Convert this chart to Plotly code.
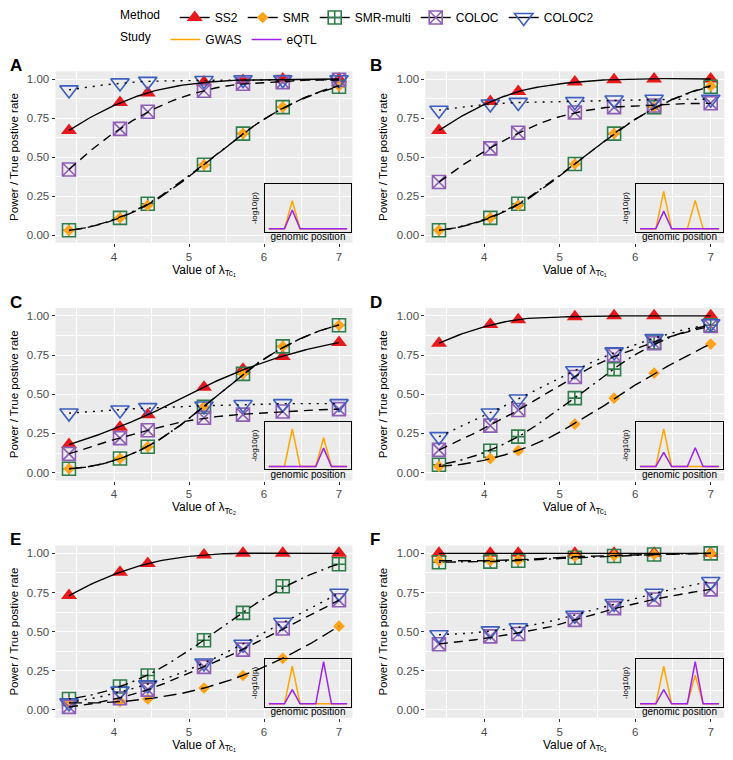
import numpy as np
import plotly.graph_objects as go

# ---------------- data ----------------
lambda_x = [3.4, 4.08, 4.45, 5.2, 5.72, 6.25, 7.0]
methods = ["SS2", "SMR", "SMR-multi", "COLOC", "COLOC2"]
panel_letters = ["A", "B", "C", "D", "E", "F"]
y_ticks = [0, 0.25, 0.5, 0.75, 1.0]
y_ticktext = ["0.00", "0.25", "0.50", "0.75", "1.00"]
x_ticks = [4, 5, 6, 7]

a_ss2 = [0.67, 0.85, 0.91, 0.98, 0.99, 1.0, 1.0]
a_smr = [0.03, 0.11, 0.19, 0.45, 0.65, 0.82, 0.955]
a_smrm = [0.03, 0.11, 0.20, 0.45, 0.65, 0.82, 0.95]
a_coloc = [0.42, 0.68, 0.79, 0.925, 0.97, 0.98, 0.995]
a_coloc2 = [0.93, 0.975, 0.985, 0.99, 0.995, 0.995, 0.995]

b_ss2 = [0.67, 0.855, 0.92, 0.98, 0.995, 1.0, 1.0]
b_smr = [0.03, 0.11, 0.19, 0.455, 0.65, 0.82, 0.955]
b_smrm = [0.03, 0.11, 0.20, 0.455, 0.65, 0.82, 0.95]
b_coloc = [0.34, 0.555, 0.655, 0.785, 0.82, 0.83, 0.845]
b_coloc2 = [0.80, 0.84, 0.85, 0.855, 0.865, 0.87, 0.87]

c_ss2 = [0.18, 0.29, 0.37, 0.545, 0.66, 0.74, 0.83]
c_smr = [0.025, 0.09, 0.165, 0.42, 0.63, 0.805, 0.94]
c_smrm = [0.025, 0.09, 0.165, 0.42, 0.63, 0.805, 0.94]
c_coloc = [0.12, 0.22, 0.27, 0.35, 0.37, 0.39, 0.405]
c_coloc2 = [0.38, 0.40, 0.415, 0.425, 0.435, 0.44, 0.44]

d_ss2 = [0.825, 0.945, 0.975, 0.995, 1.0, 1.0, 1.0]
d_smr = [0.04, 0.09, 0.14, 0.31, 0.475, 0.635, 0.82]
d_smrm = [0.05, 0.14, 0.23, 0.475, 0.66, 0.83, 0.94]
d_coloc = [0.145, 0.30, 0.40, 0.61, 0.75, 0.825, 0.935]
d_coloc2 = [0.23, 0.38, 0.47, 0.65, 0.77, 0.855, 0.95]

e_ss2 = [0.73, 0.88, 0.935, 0.99, 1.0, 1.0, 1.0]
e_smr = [0.045, 0.055, 0.07, 0.14, 0.22, 0.33, 0.535]
e_smrm = [0.07, 0.15, 0.22, 0.445, 0.62, 0.79, 0.93]
e_coloc = [0.02, 0.075, 0.13, 0.275, 0.385, 0.52, 0.70]
e_coloc2 = [0.045, 0.12, 0.16, 0.30, 0.42, 0.56, 0.745]

f_ss2 = [1.0, 1.0, 1.0, 1.0, 1.0, 1.0, 1.0]
f_smr = [0.953, 0.953, 0.957, 0.98, 0.985, 0.993, 1.0]
f_smrm = [0.943, 0.947, 0.953, 0.972, 0.983, 0.993, 1.0]
f_coloc = [0.42, 0.47, 0.485, 0.575, 0.65, 0.705, 0.77]
f_coloc2 = [0.48, 0.505, 0.525, 0.605, 0.68, 0.745, 0.82]

x_label_sub = ["1", "1", "2", "1", "1", "1"]

# inset: genomic position vs -log10(p)
genomic_pos = [0, 1, 2, 3, 4, 5, 6, 7, 8, 9, 10]
gwas_a = [0, 0, 0, 6, 0, 0, 0, 0, 0, 0, 0]
eqtl_a = [0, 0, 0, 4, 0, 0, 0, 0, 0, 0, 0]
gwas_b = [0, 0, 0, 8, 0, 0, 0, 6.1, 0, 0, 0]
eqtl_b = [0, 0, 0, 3.8, 0, 0, 0, 0, 0, 0, 0]
gwas_c = [0, 0, 0, 8, 0, 0, 0, 6.1, 0, 0, 0]
eqtl_c = [0, 0, 0, 0, 0, 0, 0, 3.9, 0, 0, 0]
gwas_d = [0, 0, 0, 8, 0, 0, 0, 0, 0, 0, 0]
eqtl_d = [0, 0, 0, 3, 0, 0, 0, 4, 0, 0, 0]
gwas_e = [0, 0, 0, 8, 0, 0, 0, 0, 0, 0, 0]
eqtl_e = [0, 0, 0, 3, 0, 0, 0, 9, 0, 0, 0]
gwas_f = [0, 0, 0, 8, 0, 0, 0, 6.1, 0, 0, 0]
eqtl_f = [0, 0, 0, 3, 0, 0, 0, 9, 0, 0, 0]

panels_data = [
    [a_ss2, a_smr, a_smrm, a_coloc, a_coloc2],
    [b_ss2, b_smr, b_smrm, b_coloc, b_coloc2],
    [c_ss2, c_smr, c_smrm, c_coloc, c_coloc2],
    [d_ss2, d_smr, d_smrm, d_coloc, d_coloc2],
    [e_ss2, e_smr, e_smrm, e_coloc, e_coloc2],
    [f_ss2, f_smr, f_smrm, f_coloc, f_coloc2],
]
insets = [(gwas_a, eqtl_a), (gwas_b, eqtl_b), (gwas_c, eqtl_c),
          (gwas_d, eqtl_d), (gwas_e, eqtl_e), (gwas_f, eqtl_f)]

# ---------------- styles ----------------
W, H = 733, 760
OFF = 8  # page body margin in the browser


def px(xp):
    return max(0.0, (xp - OFF) / W)


def py(yp):
    return min(1.0, 1 - (yp - OFF) / H)


mstyle = {
    "SS2": dict(symbol="triangle-up", size=14, color="#E8191C", line=dict(width=0)),
    "SMR": dict(symbol="diamond", size=9, color="#FFA31A", line=dict(width=0)),
    "SMR-multi": dict(symbol="square-cross-open", size=13, color="#2E7D4A", line=dict(width=1.6, color="#2E7D4A")),
    "COLOC": dict(symbol="square-x-open", size=13, color="#8E5FB5", line=dict(width=1.6, color="#8E5FB5")),
    "COLOC2": dict(symbol="triangle-down-open", size=16, color="#3D5DBF", line=dict(width=1.6, color="#3D5DBF")),
}
dashes = {
    "SS2": "solid",
    "SMR": "13px,6px",
    "SMR-multi": "2px,5px,10px,5px",
    "COLOC": "9px,6px",
    "COLOC2": "2px,6px",
}
draw_order = ["SS2", "SMR-multi", "SMR", "COLOC", "COLOC2"]
FONT = "Liberation Sans, Arial, sans-serif"


def loess(x, y, xs, span=0.75, degree=2):
    x = np.asarray(x, float)
    y = np.asarray(y, float)
    n = len(x)
    q = int(np.floor(n * span))
    out = []
    for x0 in xs:
        d = np.abs(x - x0)
        ds = np.sort(d)
        h = (ds[q - 1] + ds[q]) / 2 if q < n else ds[-1] * 1.0001
        w = np.clip(1 - (d / h) ** 3, 0, 1) ** 3
        X = np.vander(x - x0, degree + 1, increasing=True)
        sw = np.sqrt(w)
        beta, *_ = np.linalg.lstsq(X * sw[:, None], y * sw, rcond=None)
        out.append(beta[0])
    return np.array(out)


# panel geometry (reference pixels)
col_x = [(55.5, 352.5), (425.4, 724.3)]
row_y = [(71.2, 242.8), (308.0, 480.5), (545.5, 717.8)]

fig = go.Figure()
layout = dict()
shapes = []
annotations = []
xs_fit = np.linspace(min(lambda_x), max(lambda_x), 120)

for p in range(6):
    r, c = divmod(p, 2)
    x0, x1 = col_x[c]
    ytop, ybot = row_y[r]
    xd = [px(x0), px(x1)]
    yd = [py(ybot), py(ytop)]
    mi = p + 1
    ii = p + 7
    xa = "x" if mi == 1 else f"x{mi}"
    ya = "y" if mi == 1 else f"y{mi}"
    xia, yia = f"x{ii}", f"y{ii}"

    layout["xaxis" if mi == 1 else f"xaxis{mi}"] = dict(
        domain=xd, anchor=ya, range=[3.22, 7.18], tickvals=x_ticks,
        showgrid=True, gridcolor="white", gridwidth=1.1, zeroline=False,
        ticks="outside", ticklen=3, tickcolor="#333333", tickwidth=1,
        tickfont=dict(size=11.5, color="#4D4D4D", family=FONT),
        minor=dict(tickvals=[3.5, 4.5, 5.5, 6.5], showgrid=True, gridcolor="white", gridwidth=0.5),
        title=dict(text=f"Value of λ<sub>Tc{'₁' if x_label_sub[p]=='1' else '₂'}</sub>",
                   font=dict(size=12, color="black", family=FONT), standoff=3),
    )
    layout["yaxis" if mi == 1 else f"yaxis{mi}"] = dict(
        domain=yd, anchor=xa, range=[-0.05, 1.05], tickvals=y_ticks, ticktext=y_ticktext,
        showgrid=True, gridcolor="white", gridwidth=1.1, zeroline=False,
        ticks="outside", ticklen=3, tickcolor="#333333", tickwidth=1,
        tickfont=dict(size=11.5, color="#4D4D4D", family=FONT),
        minor=dict(tickvals=[0.125, 0.375, 0.625, 0.875], showgrid=True, gridcolor="white", gridwidth=0.5),
        title=dict(text="Power / True postive rate", font=dict(size=11.5, color="black", family=FONT), standoff=6),
    )
    shapes.append(dict(type="rect", xref=f"{xa} domain", yref=f"{ya} domain", x0=0, x1=1, y0=0, y1=1,
                       fillcolor="#EBEBEB", line=dict(width=0), layer="below"))

    # markers
    for m in draw_order:
        k = methods.index(m)
        fig.add_trace(go.Scatter(x=lambda_x, y=panels_data[p][k], mode="markers", marker=mstyle[m],
                                 xaxis=xa, yaxis=ya, showlegend=False, hoverinfo="skip"))
    # smooth lines
    for m in methods:
        k = methods.index(m)
        yf = loess(lambda_x, panels_data[p][k], xs_fit)
        fig.add_trace(go.Scatter(x=xs_fit, y=yf, mode="lines",
                                 line=dict(color="black", width=1.4, dash=dashes[m]),
                                 xaxis=xa, yaxis=ya, showlegend=False, hoverinfo="skip"))

    # inset
    pw, ph = x1 - x0, ybot - ytop
    ix = [px(x0 + 0.705 * pw), px(x0 + 0.995 * pw)]
    iy = [py(ytop + 0.935 * ph), py(ytop + 0.66 * ph)]
    layout[f"xaxis{ii}"] = dict(domain=ix, anchor=yia, range=[-0.5, 10.5], showgrid=False, zeroline=False,
                                showticklabels=False, ticks="", showline=True, mirror=True,
                                linecolor="black", linewidth=1,
                                title=dict(text="genomic position", font=dict(size=10, color="black", family=FONT),
                                           standoff=1))
    layout[f"yaxis{ii}"] = dict(domain=iy, anchor=xia, range=[-0.6, 9.5], showgrid=False, zeroline=False,
                                showticklabels=False, ticks="", showline=True, mirror=True,
                                linecolor="black", linewidth=1,
                                title=dict(text="-log10(p)", font=dict(size=8, color="black", family=FONT),
                                           standoff=5))
    gw, eq = insets[p]
    fig.add_trace(go.Scatter(x=genomic_pos, y=gw, mode="lines", line=dict(color="#FFA500", width=1.5),
                             xaxis=xia, yaxis=yia, name="GWAS", legend="legend2",
                             showlegend=(p == 0), hoverinfo="skip"))
    fig.add_trace(go.Scatter(x=genomic_pos, y=eq, mode="lines", line=dict(color="#A020F0", width=1.5),
                             xaxis=xia, yaxis=yia, name="eQTL", legend="legend2",
                             showlegend=(p == 0), hoverinfo="skip"))

    # panel letter
    lx = 8 if c == 0 else 368
    annotations.append(dict(text=f"<b>{panel_letters[p]}</b>", x=px(lx), y=py(ytop - 6),
                            xref="paper", yref="paper", xanchor="left", yanchor="middle",
                            showarrow=False, font=dict(size=17, color="black", family=FONT)))

# legend-only traces for methods
for m in methods:
    fig.add_trace(go.Scatter(x=[None], y=[None], mode="lines+markers", name=m, marker=mstyle[m],
                             line=dict(color="black", width=1.4, dash="solid"),
                             legend="legend", showlegend=True))

fig.update_layout(
    width=W, height=H, margin=dict(l=0, r=0, t=0, b=0, autoexpand=False),
    paper_bgcolor="white", plot_bgcolor="rgba(0,0,0,0)",
    font=dict(family=FONT, size=12, color="black"),
    shapes=shapes, annotations=annotations,
    legend=dict(orientation="h", x=px(118), y=1.0 + 5 / H, xanchor="left", yanchor="top",
                title=dict(text="Method  ", side="left", font=dict(size=12)),
                font=dict(size=12), bgcolor="rgba(0,0,0,0)", itemwidth=30, tracegroupgap=0),
    legend2=dict(orientation="h", x=px(118), y=py(25), xanchor="left", yanchor="top",
                 title=dict(text="Study  ", side="left", font=dict(size=12)),
                 font=dict(size=12), bgcolor="rgba(0,0,0,0)", itemwidth=30),
    **layout,
)

fig.write_html("out.html")
